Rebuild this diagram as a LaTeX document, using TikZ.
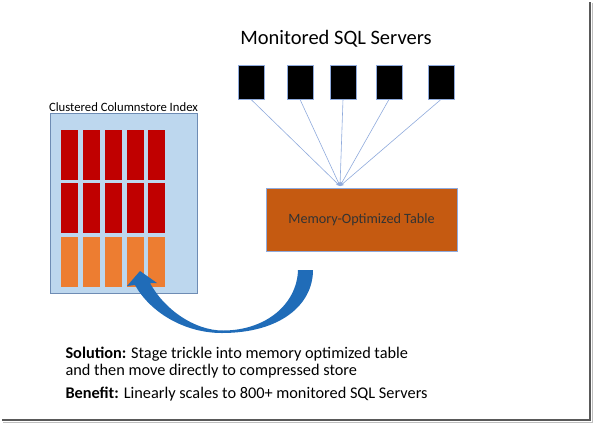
\documentclass[tikz,border=0pt]{standalone}
\usepackage{fontspec}
\setmainfont{Carlito}
\usetikzlibrary{arrows.meta}
\definecolor{cciblue}{RGB}{189,215,238}
\definecolor{cciedge}{RGB}{110,140,180}
\definecolor{colred}{RGB}{192,0,0}
\definecolor{colorange}{RGB}{237,125,49}
\definecolor{motfill}{RGB}{197,90,17}
\definecolor{motedge}{RGB}{143,170,220}
\definecolor{feedblue}{RGB}{143,170,220}
\definecolor{arrowblue}{RGB}{32,108,184}
\tikzset{
  server/.style={draw=feedblue,fill=black,line width=0.8pt,minimum width=26pt,minimum height=34pt,inner sep=0pt},
  feed/.style={draw=feedblue,line width=0.6pt,-{Stealth[length=4pt,width=4pt]}},
  redcell/.style={fill=colred,minimum width=17pt,minimum height=50pt,inner sep=0pt},
  orangecell/.style={fill=colorange,minimum width=17pt,minimum height=50pt,inner sep=0pt}
}
\begin{document}
\begin{tikzpicture}[x=1pt,y=-1pt]
  \useasboundingbox (0,0) rectangle (594,424);
  % frame
  \draw[black!25,line width=1pt] (3,422) -- (592,422) -- (592,3);
  \draw[black!65,line width=1.5pt] (2,420) -- (590,420) -- (590,2);
  % servers
  \node[font=\fontsize{20.5}{24}\selectfont] (title) at (336,39) {Monitored SQL Servers};
  \foreach \x [count=\i] in {251,300,343,389,441}
    \node[server] (s\i) at (\x,82) {};
  \coordinate (hub) at (340,186);
  \foreach \i in {1,...,5}
    \draw[feed] (s\i.south) -- (hub);
  \node[draw=motedge,fill=motfill,line width=0.8pt,minimum width=191pt,minimum height=63pt,
        inner sep=0pt,text=black!80,font=\fontsize{14.2}{16}\selectfont] (mot) at (361.5,219.5) {Memory-Optimized Table};
  % columnstore
  \node[draw=cciedge,fill=cciblue,line width=0.8pt,minimum width=147pt,minimum height=180pt,inner sep=0pt,
        label={[font=\fontsize{12.7}{14}\selectfont,inner sep=1pt]above:Clustered Columnstore Index}] (cci) at (123.5,203) {};
  \foreach \x [count=\i] in {69.5,91.5,113.5,135.5,156.5} {
    \node[redcell] (top\i) at (\x,155) {};
    \node[redcell] (mid\i) at (\x,208) {};
    \node[orangecell] (low\i) at (\x,262) {};
  }
  % move to compressed store
  \fill[arrowblue] (313,270) .. controls (313,305) and (280,333) .. (222,333)
    .. controls (184,333) and (150,312) .. (135,285)
    -- (127,286) -- (140,271) -- (157,283) -- (150,283)
    .. controls (164,309) and (194,330.5) .. (223,330.5)
    .. controls (266,330.5) and (297,304) .. (298,270) -- cycle;
  \node[anchor=base west,align=left,font=\fontsize{16.3}{17}\selectfont] (notes) at (62,398)
    {\textbf{Solution:} Stage trickle into memory optimized table\\
     and then move directly to compressed store\\[6pt]
     \textbf{Benefit:} Linearly scales to 800+ monitored SQL Servers};
\end{tikzpicture}
\end{document}
